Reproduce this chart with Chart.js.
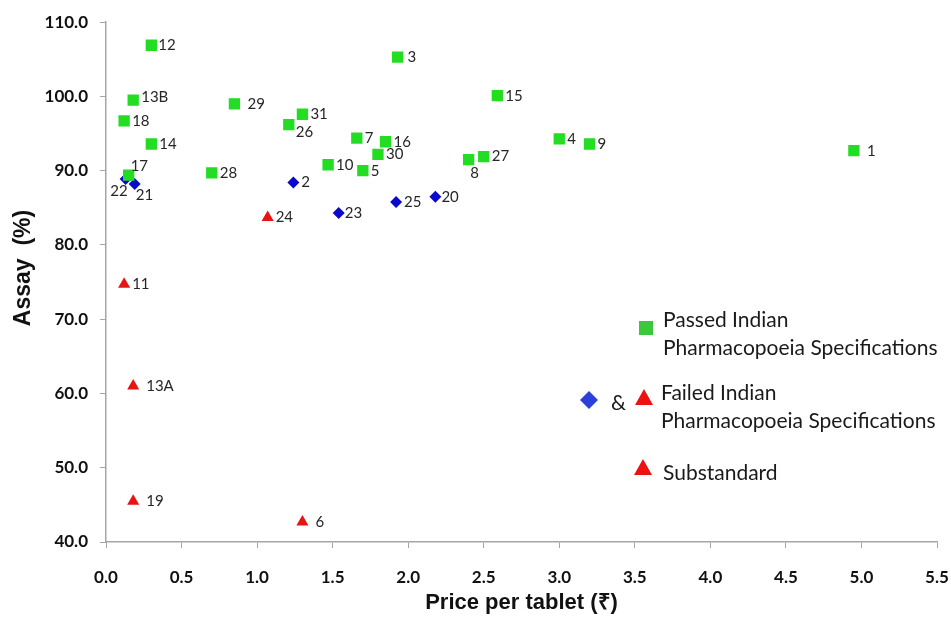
<!DOCTYPE html>
<html>
<head>
<meta charset="utf-8">
<script src="https://cdn.jsdelivr.net/npm/chart.js@4.4.0/dist/chart.umd.min.js"></script>
<style>
  body { margin: 0; background: #fff; }
  canvas { display: block; }
</style>
</head>
<body>
<canvas id="myChart" width="951" height="618"></canvas>
<script>
// samples that passed IP specs (green squares)
var passedIds = ['12', '13B', '18', '14', '17', '28', '29', '26', '31', '3', '15', '7', '16', '30', '10', '5', '8', '27', '4', '9', '1'];
var passedPrice = [0.30, 0.18, 0.12, 0.30, 0.15, 0.70, 0.85, 1.21, 1.30, 1.93, 2.59, 1.66, 1.85, 1.80, 1.47, 1.70, 2.40, 2.50, 3.00, 3.20, 4.95];
var passedAssay = [106.9, 99.5, 96.7, 93.6, 89.4, 89.7, 99.0, 96.2, 97.6, 105.3, 100.1, 94.4, 93.9, 92.2, 90.8, 90.0, 91.5, 91.9, 94.3, 93.6, 92.7];

// failed IP specs (blue diamonds)
var failedIds = ['22', '21', '2', '23', '25', '20'];
var failedPrice = [0.13, 0.19, 1.24, 1.54, 1.92, 2.18];
var failedAssay = [88.9, 88.2, 88.4, 84.3, 85.8, 86.5];

// substandard (red triangles)
var subIds = ['24', '11', '13A', '19', '6'];
var subPrice = [1.07, 0.12, 0.18, 0.18, 1.30];
var subAssay = [83.7, 74.7, 61.0, 45.5, 42.7];

var xTicks = [0, 0.5, 1, 1.5, 2, 2.5, 3, 3.5, 4, 4.5, 5, 5.5];
var yTicks = [40, 50, 60, 70, 80, 90, 100, 110];

// label placement tweaks [dx, dy, align], default is to the right
var labelTweak = {
    '29': [13, 0], '26': [7, 7], '3': [10, 0], '8': [6, 14, 'center'],
    '1': [13, 0], '17': [2, -9], '22': [2, 12, 'right'], '21': [1, 11],
    '13B': [8, -3], '13A': [13, 0], '19': [13, 0], '6': [13, 0],
    '23': [6, 0], '20': [6, 0], '12': [7, 0]
};

function toPoints(xs, ys) {
    var pts = [];
    for (var i = 0; i < xs.length; i++) {
        pts.push({ x: xs[i], y: ys[i] });
    }
    return pts;
}

var pointLabels = {
    id: 'pointLabels',
    afterDatasetsDraw: function (chart) {
        var ctx = chart.ctx;
        ctx.save();
        ctx.font = '15px Lato';
        ctx.fillStyle = '#262626';
        ctx.textBaseline = 'middle';
        chart.data.datasets.forEach(function (ds, di) {
            var meta = chart.getDatasetMeta(di);
            meta.data.forEach(function (el, i) {
                var id = ds.ids[i];
                var t = labelTweak[id] || [8, 0];
                ctx.textAlign = t[2] || 'left';
                ctx.fillText(id, el.x + t[0], el.y + t[1]);
            });
        });
        ctx.restore();
    }
};

// the hand-made key on the right + the y title (sits a bit above centre)
var keyBox = {
    id: 'keyBox',
    afterDraw: function (chart) {
        var ctx = chart.ctx;
        ctx.save();
        ctx.font = '21px Lato';
        ctx.textBaseline = 'middle';
        ctx.textAlign = 'left';

        ctx.fillStyle = '#3cc83c';
        ctx.fillRect(639, 321, 14, 14);
        ctx.fillStyle = '#1a1a1a';
        ctx.fillText('Passed Indian', 663, 320);
        ctx.fillText('Pharmacopoeia Specifications', 663, 348);

        ctx.fillStyle = '#2b3fd9';
        ctx.beginPath();
        ctx.moveTo(589, 391); ctx.lineTo(598, 400); ctx.lineTo(589, 409); ctx.lineTo(580, 400);
        ctx.closePath(); ctx.fill();
        ctx.fillStyle = '#1a1a1a';
        ctx.fillText('&', 611, 403);

        ctx.fillStyle = '#ee1111';
        ctx.beginPath();
        ctx.moveTo(644, 389); ctx.lineTo(653, 405); ctx.lineTo(635, 405);
        ctx.closePath(); ctx.fill();
        ctx.fillStyle = '#1a1a1a';
        ctx.fillText('Failed Indian', 661, 393);
        ctx.fillText('Pharmacopoeia Specifications', 661, 421);

        ctx.fillStyle = '#ee1111';
        ctx.beginPath();
        ctx.moveTo(643, 459); ctx.lineTo(652, 475); ctx.lineTo(634, 475);
        ctx.closePath(); ctx.fill();
        ctx.fillStyle = '#1a1a1a';
        ctx.fillText('Substandard', 663, 473);

        ctx.translate(24, 268);
        ctx.rotate(-Math.PI / 2);
        ctx.textAlign = 'center';
        ctx.font = 'bold 23px "Liberation Sans"';
        ctx.fillStyle = '#111';
        ctx.fillText('Assay  (%)', 0, 0);
        ctx.restore();
    }
};

var axisGray = '#a6a6a6';

new Chart(document.querySelector('#myChart'), {
    type: 'scatter',
    data: {
        datasets: [{
            label: 'Passed',
            ids: passedIds,
            data: toPoints(passedPrice, passedAssay),
            pointStyle: 'rect',
            pointRadius: 8,
            backgroundColor: '#22dd22',
            borderWidth: 0
        }, {
            label: 'Failed',
            ids: failedIds,
            data: toPoints(failedPrice, failedAssay),
            pointStyle: 'rectRot',
            pointRadius: 6,
            backgroundColor: '#0a0acc',
            borderWidth: 0
        }, {
            label: 'Substandard',
            ids: subIds,
            data: toPoints(subPrice, subAssay),
            pointStyle: 'triangle',
            pointRadius: 7,
            backgroundColor: '#e81414',
            borderWidth: 0
        }]
    },
    options: {
        responsive: false,
        animation: false,
        layout: { padding: { top: 21, right: 14, left: 0, bottom: 0 } },
        plugins: {
            legend: { display: false },
            tooltip: { enabled: false }
        },
        scales: {
            x: {
                type: 'linear',
                min: 0,
                max: 5.5,
                afterFit: function (scale) {
                    scale.height = 76;
                    scale.paddingLeft = 0;
                    scale.paddingRight = 0;
                },
                afterBuildTicks: function (scale) {
                    scale.ticks = xTicks.map(function (v) { return { value: v }; });
                },
                grid: { drawOnChartArea: false, color: axisGray, tickLength: 6 },
                border: { color: axisGray, width: 1.5 },
                ticks: {
                    padding: 19,
                    color: '#111',
                    font: { family: 'Lato', size: 17, weight: 'bold' },
                    callback: function (v) { return v.toFixed(1); }
                },
                title: {
                    display: true,
                    text: 'Price per tablet (₹)',
                    color: '#111',
                    font: { family: 'Liberation Sans', size: 22, weight: 'bold' },
                    padding: { top: 0, bottom: 2 }
                }
            },
            y: {
                type: 'linear',
                min: 40,
                max: 110,
                afterFit: function (scale) { scale.width = 106; },
                afterBuildTicks: function (scale) {
                    scale.ticks = yTicks.map(function (v) { return { value: v }; });
                },
                grid: { drawOnChartArea: false, color: axisGray, tickLength: 6 },
                border: { color: axisGray, width: 1.5 },
                ticks: {
                    padding: 12,
                    color: '#111',
                    font: { family: 'Lato', size: 17, weight: 'bold' },
                    callback: function (v) { return v.toFixed(1); }
                }
            }
        }
    },
    plugins: [pointLabels, keyBox]
});
</script>
</body>
</html>
